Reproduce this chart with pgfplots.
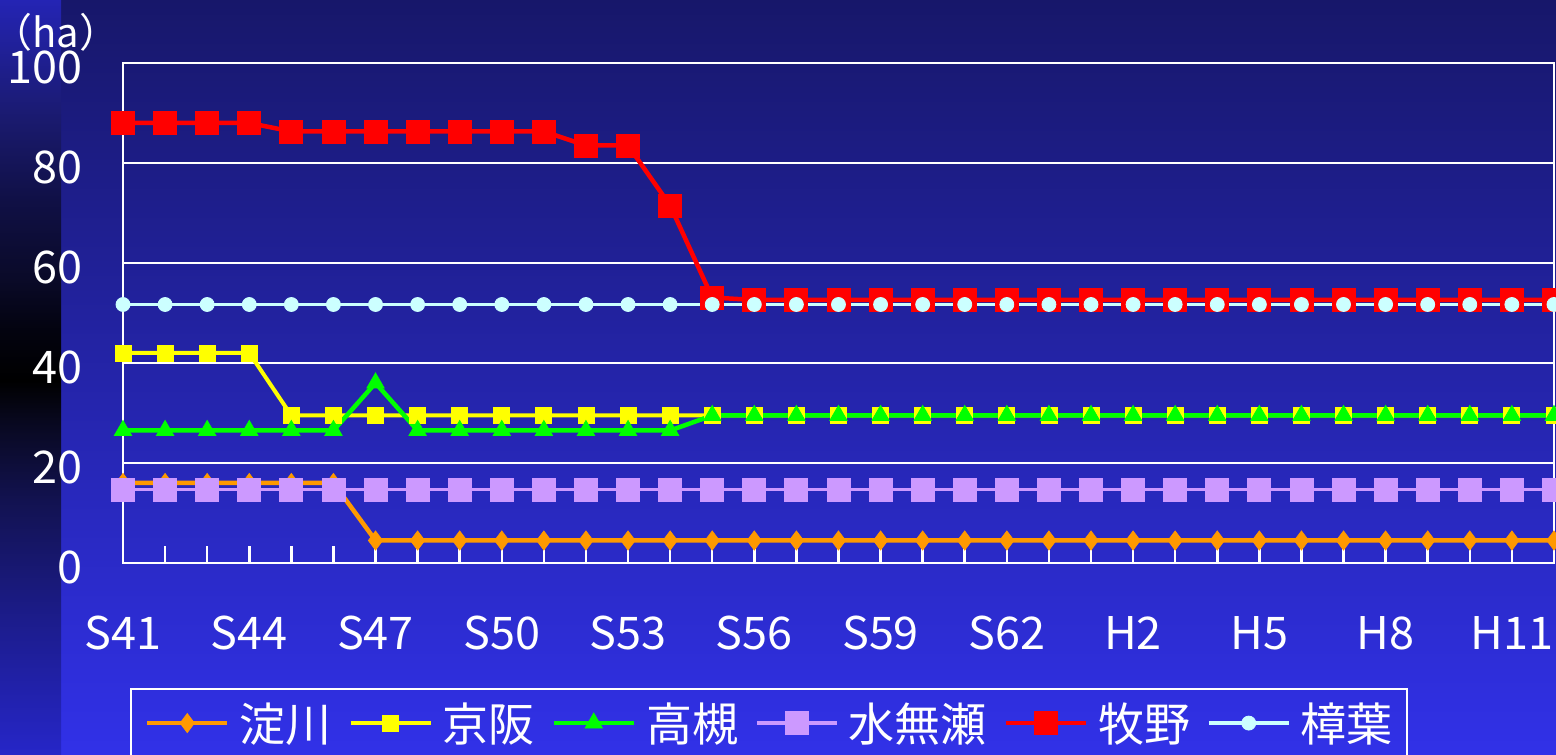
\documentclass[border=0pt]{standalone}
\usepackage{fontspec}
\setmainfont{Noto Sans CJK JP}
\usepackage{pgfplots}
\usepackage{pgfplotstable}
\pgfplotsset{compat=1.18}

\definecolor{cYodo}{RGB}{255,153,0}
\definecolor{cKeihan}{RGB}{255,255,0}
\definecolor{cTaka}{RGB}{0,255,0}
\definecolor{cMina}{RGB}{204,153,255}
\definecolor{cMaki}{RGB}{255,0,0}
\definecolor{cKuzu}{RGB}{204,255,255}
\definecolor{bgtop}{RGB}{23,23,106}
\definecolor{bgbot}{RGB}{49,49,232}

% left strip: bright at top, black around the 40 label, blue again at the bottom
\pgfdeclareverticalshading{leftstrip}{100bp}{
  rgb(0bp)=(0.149,0.149,0.784);
  rgb(25bp)=(0.149,0.149,0.784);
  rgb(33.9bp)=(0.110,0.110,0.549);
  rgb(41.9bp)=(0.071,0.071,0.314);
  rgb(47.2bp)=(0.031,0.031,0.118);
  rgb(49.8bp)=(0,0,0);
  rgb(53.1bp)=(0.012,0.012,0.059);
  rgb(56.5bp)=(0.039,0.039,0.157);
  rgb(61.8bp)=(0.063,0.063,0.275);
  rgb(67.1bp)=(0.102,0.102,0.431);
  rgb(75bp)=(0.141,0.141,0.706);
  rgb(100bp)=(0.141,0.141,0.706)}

% x: 0 = S41 ... 33 = H11, 34 = H12
\pgfplotstableread{
x  yodo keihan taka mina maki kuzu
0  16   42    26.5 14.7 88   51.7
1  16   42    26.5 14.7 88   51.7
2  16   42    26.5 14.7 88   51.7
3  16   42    26.5 14.7 88   51.7
4  16   29.5  26.5 14.7 86.3 51.7
5  16   29.5  26.5 14.7 86.3 51.7
6  4.5  29.5  36   14.7 86.3 51.7
7  4.5  29.5  26.5 14.7 86.3 51.7
8  4.5  29.5  26.5 14.7 86.3 51.7
9  4.5  29.5  26.5 14.7 86.3 51.7
10 4.5  29.5  26.5 14.7 86.3 51.7
11 4.5  29.5  26.5 14.7 83.5 51.7
12 4.5  29.5  26.5 14.7 83.5 51.7
13 4.5  29.5  26.5 14.7 71.5 51.7
14 4.5  29.5  29.5 14.7 53.1 51.7
15 4.5  29.5  29.5 14.7 52.6 51.7
16 4.5  29.5  29.5 14.7 52.6 51.7
17 4.5  29.5  29.5 14.7 52.6 51.7
18 4.5  29.5  29.5 14.7 52.6 51.7
19 4.5  29.5  29.5 14.7 52.6 51.7
20 4.5  29.5  29.5 14.7 52.6 51.7
21 4.5  29.5  29.5 14.7 52.6 51.7
22 4.5  29.5  29.5 14.7 52.6 51.7
23 4.5  29.5  29.5 14.7 52.6 51.7
24 4.5  29.5  29.5 14.7 52.6 51.7
25 4.5  29.5  29.5 14.7 52.6 51.7
26 4.5  29.5  29.5 14.7 52.6 51.7
27 4.5  29.5  29.5 14.7 52.6 51.7
28 4.5  29.5  29.5 14.7 52.6 51.7
29 4.5  29.5  29.5 14.7 52.6 51.7
30 4.5  29.5  29.5 14.7 52.6 51.7
31 4.5  29.5  29.5 14.7 52.6 51.7
32 4.5  29.5  29.5 14.7 52.6 51.7
33 4.5  29.5  29.5 14.7 52.6 51.7
34 4.5  29.5  29.5 14.7 52.6 51.7
}\areadata

\begin{document}
\begin{tikzpicture}
\useasboundingbox (0pt,0pt) rectangle (1556pt,755pt);
\clip (0pt,0pt) rectangle (1556pt,755pt);
\shade[top color=bgtop, bottom color=bgbot] (61pt,0pt) rectangle (1556pt,755pt);
\shade[shading=leftstrip] (0pt,0pt) rectangle (61pt,755pt);

\begin{axis}[
    at={(123pt,192pt)}, anchor=south west,
    scale only axis, width=1431pt, height=500pt,
    xmin=0, xmax=34, ymin=0, ymax=100,
    axis line style={white, line width=2.2pt},
    xtick={0,...,34},
    xticklabels={S41,,,S44,,,S47,,,S50,,,S53,,,S56,,,S59,,,S62,,,H2,,,H5,,,H8,,,H11,},
    ytick={0,20,...,100},
    yticklabels={0,20,40,60,80,100},
    xtick pos=lower,
    tick align=inside,
    major tick length=17pt,
    xtick style={white, line width=2.5pt},
    ytick style={draw=none},
    ymajorgrids,
    major grid style={white, line width=1.8pt},
    tick label style={white, font=\fontsize{45}{54}\selectfont},
    xticklabel style={anchor=center, yshift=-70pt},
    yticklabel style={anchor=east, inner sep=0pt, xshift=-40pt, yshift=-4pt},
    legend columns=6,
    legend cell align=left,
    legend style={at={(0.0049,-0.25)}, anchor=north west,
        draw=white, line width=2pt, fill=none, text=white,
        font=\fontsize{46}{52}\selectfont,
        inner xsep=14pt, inner ysep=14pt,
        nodes={inner xsep=0pt, inner ysep=0pt},
        column sep=10pt,
        /tikz/every even column/.append style={column sep=17pt}},
    legend image code/.code={\draw[mark repeat=2,mark phase=2,#1]
        plot coordinates {(0pt,0pt) (40pt,0pt) (80pt,0pt)};},
]
\addplot[color=cYodo, line width=4.5pt, mark=diamond*, mark size=9.5pt,
    mark options={fill=cYodo, line width=0.8pt}] table[x=x, y=yodo]{\areadata};
\addlegendentry{淀川}
\addplot[color=cKeihan, line width=4pt, mark=square*, mark size=8pt,
    mark options={fill=cKeihan, line width=0.8pt}] table[x=x, y=keihan]{\areadata};
\addlegendentry{京阪}
\addplot[color=cTaka, line width=4.5pt, mark=triangle*, mark size=10pt,
    mark options={fill=cTaka, line width=0.8pt}] table[x=x, y=taka]{\areadata};
\addlegendentry{高槻}
\addplot[color=cMina, line width=3.5pt, mark=square*, mark size=11.5pt,
    mark options={fill=cMina, line width=0.8pt}] table[x=x, y=mina]{\areadata};
\addlegendentry{水無瀬}
\addplot[color=cMaki, line width=4.5pt, mark=square*, mark size=11.5pt,
    mark options={fill=cMaki, line width=0.8pt}] table[x=x, y=maki]{\areadata};
\addlegendentry{牧野}
\addplot[color=cKuzu, line width=3.5pt, mark=*, mark size=7pt,
    mark options={fill=cKuzu, line width=0.8pt}] table[x=x, y=kuzu]{\areadata};
\addlegendentry{樟葉}
\end{axis}

\node[white, inner sep=0pt, font=\fontsize{40}{48}\selectfont] at (56pt,723pt) {（ha）};
\end{tikzpicture}
\end{document}
